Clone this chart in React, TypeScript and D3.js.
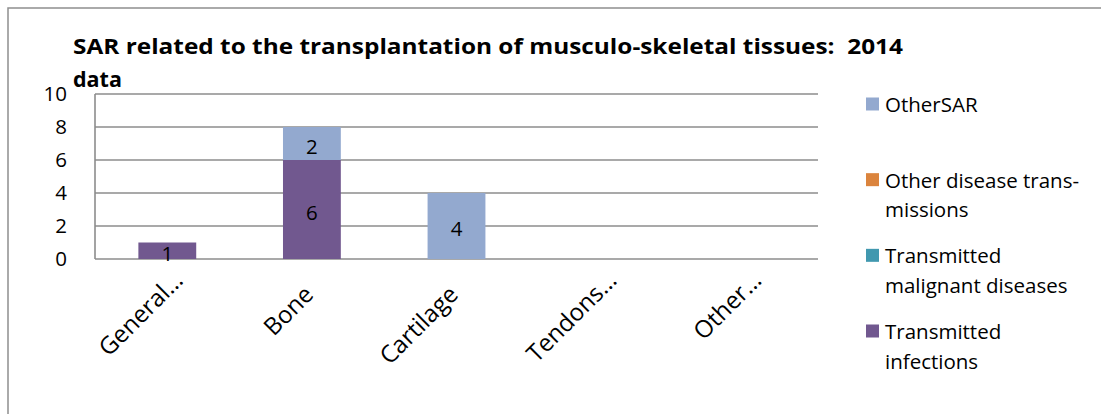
import React from 'react';
import * as d3 from 'd3';

const categories = ['General…', 'Bone', 'Cartilage', 'Tendons…', 'Other…'];
const seriesNames = ['Transmitted infections', 'Transmitted malignant diseases', 'Other disease transmissions', 'OtherSAR'];
const infections = [1, 6, 0, 0, 0];
const malignant = [0, 0, 0, 0, 0];
const otherDisease = [0, 0, 0, 0, 0];
const otherSAR = [0, 2, 4, 0, 0];
const yTicks = [0, 2, 4, 6, 8, 10];
const colors = ['#71588f', '#4198af', '#db843d', '#93a9cf'];
// legend goes top to bottom in reverse stack order, wrapped like the original
const legendLines = [['OtherSAR'], ['Other disease trans-', 'missions'], ['Transmitted', 'malignant diseases'], ['Transmitted', 'infections']];
const title = ['SAR related to the transplantation of musculo-skeletal tissues:  2014', 'data'];

const font = '"Open Sans", sans-serif';

export default function App() {
  const margin = { top: 94, left: 95, right: 283, bottom: 155 };
  const W = 1101;
  const H = 414;
  const plotW = W - margin.left - margin.right;
  const plotH = H - margin.top - margin.bottom;

  const table = categories.map((c, i) => ({
    cat: c,
    'Transmitted infections': infections[i],
    'Transmitted malignant diseases': malignant[i],
    'Other disease transmissions': otherDisease[i],
    OtherSAR: otherSAR[i],
  }));
  const stacked = d3.stack<any>().keys(seriesNames)(table);

  const x = d3.scaleBand().domain(categories).range([0, plotW]).paddingInner(0.6).paddingOuter(0.3);
  const y = d3.scaleLinear().domain([0, 10]).range([plotH, 0]);
  const legendY = d3.scaleLinear().domain([0, 3]).range([104, 331]);

  const grid = '#8c8c8c';

  return (
    <svg width={W} height={H} style={{ position: 'absolute', left: 0, top: 0, background: '#fff' }} fontFamily={font}>
      <rect x={8} y={8} width={1200} height={600} fill="#fff" stroke="#8e8e8e" strokeWidth={1.5} />

      {/* title */}
      <text x={73} y={53.5} fontSize={21.5} fontWeight="bold" fill="#000" style={{ whiteSpace: 'pre' }} textLength={830} lengthAdjust="spacingAndGlyphs">
        {title[0]}
      </text>
      <text x={73} y={87} fontSize={21.5} fontWeight="bold" fill="#000">{title[1]}</text>

      <g transform={`translate(${margin.left},${margin.top})`}>
        {yTicks.map(t => (
          <g key={t}>
            <line x1={0} x2={plotW} y1={y(t)} y2={y(t)} stroke={grid} strokeWidth={1.6} />
            <text x={-28} y={y(t)} dy="0.36em" textAnchor="end" fontSize={20.5} fill="#000">{t}</text>
          </g>
        ))}
        <line x1={0} x2={0} y1={y(10)} y2={y(0)} stroke={grid} strokeWidth={1.6} />

        {stacked.map((s, si) => (
          <g key={s.key} fill={colors[si]}>
            {s.map((d, i) => (d[1] - d[0] > 0 ? (
              <rect key={i} x={x(categories[i])} width={x.bandwidth()} y={y(d[1])} height={y(d[0]) - y(d[1])} />
            ) : null))}
          </g>
        ))}

        {stacked.map(s => s.map((d, i) => (d[1] - d[0] > 0 ? (
          <text key={s.key + i} x={(x(categories[i]) as number) + x.bandwidth() / 2} y={(y(d[0]) + y(d[1])) / 2 + 3}
            dy="0.36em" textAnchor="middle" fontSize={20.5} fill="#000">{d[1] - d[0]}</text>
        ) : null)))}

        {/* rotated category labels, truncated ones sit a bit further out like Excel does */}
        {categories.map(c => (
          <text key={c} transform={`translate(${(x(c) as number) + x.bandwidth() / 2 + 3},${plotH + 37}) rotate(-45)`}
            x={c.endsWith('…') ? 20 : 0} textAnchor="end" fontSize={24} fill="#000">{c}</text>
        ))}
      </g>

      {/* legend */}
      {legendLines.map((lines, i) => (
        <g key={i}>
          <rect x={866} y={legendY(i) - 6.5} width={13} height={13} fill={colors[3 - i]} />
          {lines.map((ln, j) => (
            <text key={j} x={885} y={legendY(i) + 8 + j * 29.5} fontSize={20.5} fill="#000">{ln}</text>
          ))}
        </g>
      ))}
    </svg>
  );
}
